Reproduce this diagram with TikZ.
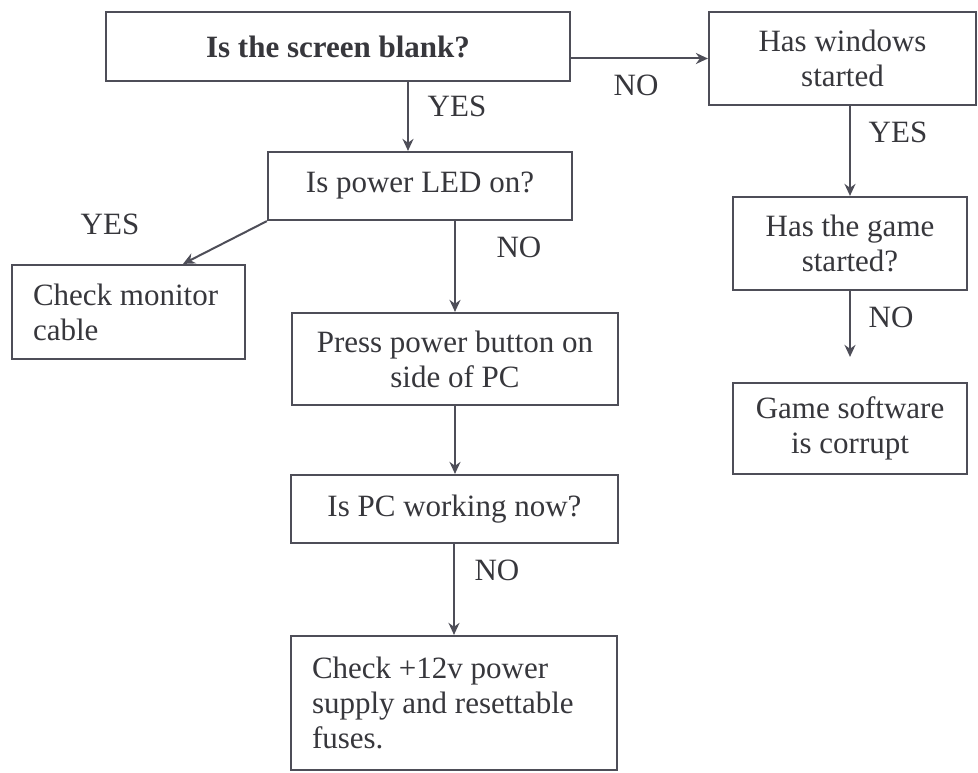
\documentclass[tikz,border=0pt]{standalone}
\usepackage{fontspec}
\setmainfont{Liberation Serif}
\usetikzlibrary{arrows.meta,positioning,calc}
\definecolor{linec}{RGB}{78,78,88}
\definecolor{textc}{RGB}{55,55,60}
\tikzset{
  box/.style={draw=linec, line width=2.2pt, rectangle, inner sep=0pt, text=textc,
    font=\fontsize{31}{35}\selectfont, align=center},
  lbox/.style={box, align=flush left, inner xsep=21pt},
  arr/.style={draw=linec, line width=2pt, -{Stealth[length=12pt,width=11pt]}},
  lab/.style={text=textc, font=\fontsize{31}{35}\selectfont, inner sep=0pt}
}
\begin{document}
\begin{tikzpicture}[x=1pt,y=-1pt]
\useasboundingbox[fill=white] (0,0) rectangle (978,773);
% boxes: center = ((l+r)/2,(t+b)/2)
\node[box, minimum width=464pt, minimum height=69pt] (b1) at (338,46.5) {\textbf{Is the screen blank?}};
\node[box, minimum width=267pt, minimum height=93pt] (win) at (842.5,58.5) {Has windows\\started};
\node[box, minimum width=304pt, minimum height=68pt] (led) at (420,186) {Is power LED on?};
\node[lbox, minimum width=233pt, minimum height=94pt, text width=191pt] (cable) at (128.5,312) {Check monitor\\cable};
\node[box, minimum width=326pt, minimum height=92pt] (press) at (455,359) {Press power button on\\side of PC};
\node[box, minimum width=327pt, minimum height=68pt] (work) at (454.5,509) {Is PC working now?};
\node[lbox, minimum width=326pt, minimum height=134pt, text width=284pt] (fuse) at (454,703) {Check +12v power\\supply and resettable\\fuses.};
\node[box, minimum width=234pt, minimum height=93pt] (game) at (850,243.5) {Has the game\\started?};
\node[box, minimum width=234pt, minimum height=91pt] (corrupt) at (850,428.5) {Game software\\is corrupt};
% helper coordinates
\coordinate (cx1) at (408,0);
\coordinate (cx2) at (183,0);
% connectors
\draw[arr] (b1.east |- win.west) -- (win.west);
\draw[arr] (b1.south -| cx1) -- (led.north -| cx1);
\draw[arr] (led.south west) -- (cable.north -| cx2);
\draw[arr] (led.south -| press.north) -- (press.north);
\draw[arr] (press.south) -- (work.north -| press.south);
\draw[arr] (work.south -| fuse.north) -- (fuse.north);
\draw[arr] (win.south -| game.north) -- (game.north);
\draw[arr, shorten >=25pt] (game.south) -- (corrupt.north);
% labels
\node[lab] (l1) at (457,106) {YES};
\node[lab] (l2) at (636,85) {NO};
\node[lab] (l3) at (110,224) {YES};
\node[lab] (l4) at (519,247) {NO};
\node[lab] (l5) at (497,570) {NO};
\node[lab] (l6) at (898,132) {YES};
\node[lab] (l7) at (891,317) {NO};
\end{tikzpicture}
\end{document}
